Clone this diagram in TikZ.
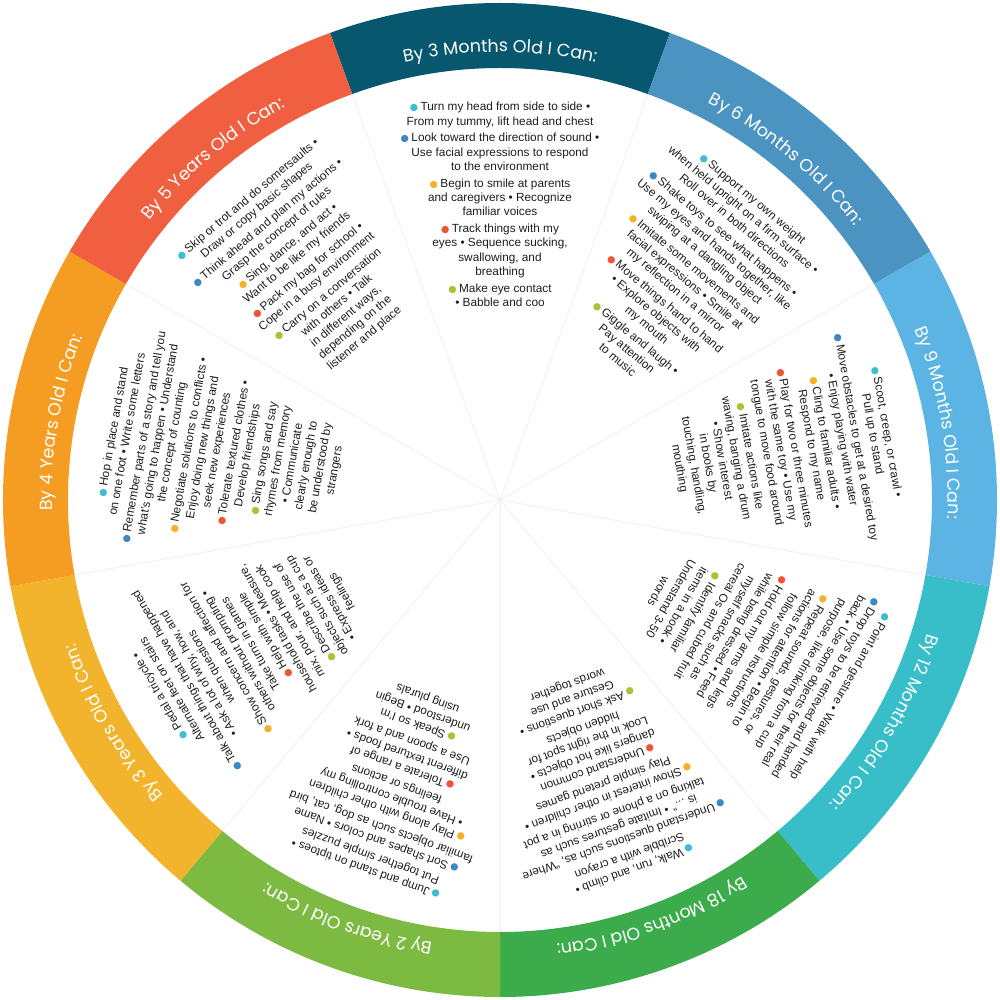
\documentclass[tikz,border=0pt]{standalone}
\usepackage{fontspec}
\usepackage{graphicx}
\setmainfont{Liberation Sans}
\newfontfamily\labfont{Poppins}
\newfontfamily\symfont{DejaVu Sans}
\usetikzlibrary{decorations.text}
\definecolor{cmA}{HTML}{07576F}
\definecolor{cmB}{HTML}{4B94C2}
\definecolor{cmC}{HTML}{5CB4E4}
\definecolor{cmD}{HTML}{38BEC9}
\definecolor{cmE}{HTML}{3BAB4B}
\definecolor{cmF}{HTML}{7CBA42}
\definecolor{cmG}{HTML}{F2B42C}
\definecolor{cmH}{HTML}{F59D22}
\definecolor{cmI}{HTML}{F05F40}
\definecolor{dC}{HTML}{3DBFD1}
\definecolor{dB}{HTML}{3E88C2}
\definecolor{dY}{HTML}{F4B22B}
\definecolor{dR}{HTML}{EF5535}
\definecolor{dG}{HTML}{A6C532}
\definecolor{txt}{HTML}{1E1E1E}
\definecolor{divc}{HTML}{F0F0F0}
\newcommand{\bd}[1]{{\color{#1}\fontsize{9.5}{9}\symfont ●}\hspace{2.5pt}}
\newcommand{\ig}{\\[2.5pt]}
\tikzset{
  blk/.style={anchor=north, align=center, inner sep=0pt, text=txt,
    font=\fontsize{11.8}{14.3}\selectfont},
  divline/.style={draw=divc, line width=0.8pt},
  ringlab/.style={decorate, decoration={text along path, text align=center,
    text color=white, text={|\labfont\fontsize{17.5}{20}\selectfont|#1}}}
}
\newcommand{\seg}[2]{%
  \fill[#2] ({#1-20}:432pt) arc[start angle={#1-20}, end angle={#1+20}, radius=432pt]
    -- ({#1+20}:497pt) arc[start angle={#1+20}, end angle={#1-20}, radius=497pt] -- cycle;}
\newcommand{\lab}[2]{%
  \path[ringlab={#2}] ({#1+22}:448pt) arc[start angle={#1+22}, end angle={#1-22}, radius=448pt];}
\begin{document}
\begin{tikzpicture}[x=1pt,y=1pt]
\useasboundingbox (-500,-500) rectangle (500,500);
\fill[white] (-500,-500) rectangle (500,500);
% faint dividers
\foreach \a in {70,110,150,190,230,270,310,350,30}
  \draw[divline] (0,0) -- (\a:432pt);
% ring
\seg{90}{cmA}
\seg{50}{cmB}
\seg{10}{cmC}
\seg{-30}{cmD}
\seg{-70}{cmE}
\seg{-110}{cmF}
\seg{-150}{cmG}
\seg{170}{cmH}
\seg{130}{cmI}
% ring labels
\lab{90}{By 3 Months Old I Can:}
\lab{50}{By 6 Months Old I Can:}
\lab{10}{By 9 Months Old I Can:}
\lab{-30}{By 12 Months Old I Can:}
\lab{-70}{By 18 Months Old I Can:}
\lab{-110}{By 2 Years Old I Can:}
\lab{-150}{By 3 Years Old I Can:}
\lab{170}{By 4 Years Old I Can:}
\lab{130}{By 5 Years Old I Can:}
% 3 months
\node[blk, rotate=0] (t3m) at (90:398pt) {%
\bd{dC}Turn my head from side to side •\\
From my tummy, lift head and chest\ig
\bd{dB}Look toward the direction of sound •\\
Use facial expressions to respond\\
to the environment\ig
\bd{dY}Begin to smile at parents\\
and caregivers • Recognize\\
familiar voices\ig
\bd{dR}Track things with my\\
eyes • Sequence sucking,\\
swallowing, and\\
breathing\ig
\bd{dG}Make eye contact\\
• Babble and coo};
% 6 months
\node[blk, rotate=-40] (t6m) at (50:398pt) {%
\bd{dC}Support my own weight\\
when held upright on a firm surface •\\
Roll over in both directions\ig
\bd{dB}Shake toys to see what happens •\\
Use my eyes and hands together, like\\
swiping at a dangling object\ig
\bd{dY}Imitate some movements and\\
facial expressions • Smile at\\
my reflection in a mirror\ig
\bd{dR}Move things hand to hand\\
• Explore objects with\\
my mouth\ig
\bd{dG}Giggle and laugh •\\
Pay attention\\
to music};
% 9 months
\node[blk, rotate=-80] (t9m) at (10:398pt) {%
\bd{dC}Scoot, creep, or crawl •\\
Pull up to stand\ig
\bd{dB}Move obstacles to get at a desired toy\\
• Enjoy playing with water\ig
\bd{dY}Cling to familiar adults •\\
Respond to my name\ig
\bd{dR}Play for two or three minutes\\
with the same toy • Use my\\
tongue to move food around\ig
\bd{dG}Imitate actions like\\
waving, banging a drum\\
• Show interest\\
in books by\\
touching, handling,\\
mouthing};
% 12 months
\node[blk, rotate=-120] (t12m) at (-30:398pt) {%
\bd{dC}Point and gesture • Walk with help\ig
\bd{dB}Drop toys to be retrieved and handed\\
back • Use some objects for their real\\
purpose, like drinking from a cup\ig
\bd{dY}Repeat sounds, gestures, or\\
actions for attention • Begin to\\
follow simple instructions\ig
\bd{dR}Hold out my arms and legs\\
while being dressed • Feed\\
myself snacks such as\\
cereal Os and cubed fruit\ig
\bd{dG}Identify familiar\\
items in a book •\\
Understand 3-50\\
words};
% 18 months
\node[blk, rotate=-160] (t18m) at (-70:398pt) {%
\bd{dC}Walk, run, and climb •\\
Scribble with a crayon\ig
\bd{dB}Understand questions such as, “Where\\
is ...” • Imitate gestures such as\\
talking on a phone or stirring in a pot\ig
\bd{dY}Show interest in other children •\\
Play simple pretend games\ig
\bd{dR}Understand common\\
dangers like hot objects •\\
Look in the right spot for\\
hidden objects\ig
\bd{dG}Ask short questions •\\
Gesture and use\\
words together};
% 2 years
\node[blk, rotate=-200] (t2y) at (-110:398pt) {%
\bd{dC}Jump and stand on tiptoes •\\
Put together simple puzzles\ig
\bd{dB}Sort shapes and colors • Name\\
familiar objects such as dog, cat, bird\ig
\bd{dY}Play along with other children\\
• Have trouble controlling my\\
feelings or actions\ig
\bd{dR}Tolerate a range of\\
different textured foods •\\
Use a spoon and a fork\ig
\bd{dG}Speak so I’m\\
understood • Begin\\
using plurals};
% 3 years
\node[blk, rotate=-240] (t3y) at (-150:398pt) {%
\bd{dC}Pedal a tricycle •\\
Alternate feet on stairs\ig
\bd{dB}Talk about things that have happened\\
• Ask a lot of why, how, and\\
when questions\ig
\bd{dY}Show concern and affection for\\
others without prompting •\\
Take turns in games\ig
\bd{dR}Help with simple\\
household tasks • Measure,\\
mix, pour, and help cook\ig
\bd{dG}Describe the use of\\
objects such as a cup\\
• Express ideas or\\
feelings};
% 4 years
\node[blk, rotate=80] (t4y) at (170:398pt) {%
\bd{dC}Hop in place and stand\\
on one foot • Write some letters\ig
\bd{dB}Remember parts of a story and tell you\\
what’s going to happen • Understand\\
the concept of counting\ig
\bd{dY}Negotiate solutions to conflicts •\\
Enjoy doing new things and\\
seek new experiences\ig
\bd{dR}Tolerate textured clothes •\\
Develop friendships\ig
\bd{dG}Sing songs and say\\
rhymes from memory\\
• Communicate\\
clearly enough to\\
be understood by\\
strangers};
% 5 years
\node[blk, rotate=40] (t5y) at (130:398pt) {%
\bd{dC}Skip or trot and do somersaults •\\
Draw or copy basic shapes\ig
\bd{dB}Think ahead and plan my actions •\\
Grasp the concept of rules\ig
\bd{dY}Sing, dance, and act •\\
Want to be like my friends\ig
\bd{dR}Pack my bag for school •\\
Cope in a busy environment\ig
\bd{dG}Carry on a conversation\\
with others • Talk\\
in different ways,\\
depending on the\\
listener and place};
\end{tikzpicture}
\end{document}
